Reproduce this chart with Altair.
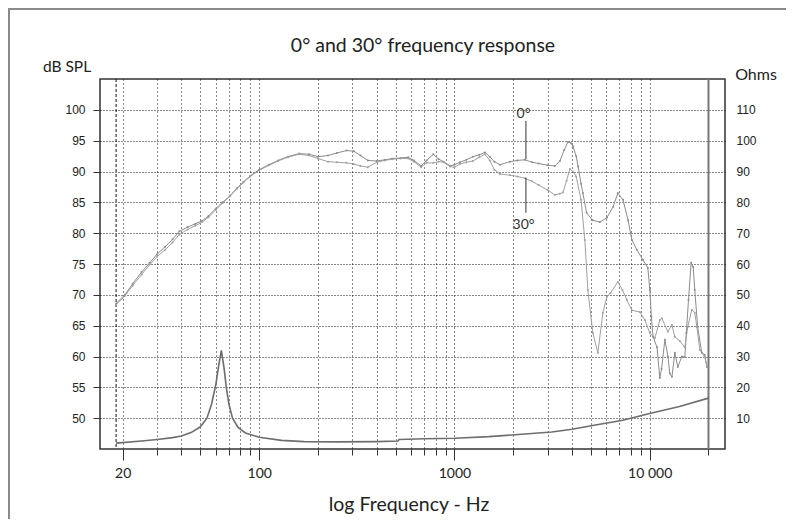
import altair as alt
import pandas as pd

# ---------------- data ----------------
freq_0 = [18.5, 20.5, 22.5, 25, 27.5, 30, 33, 36, 39, 43, 47, 51, 55, 60, 65, 71, 77, 83, 90, 100,
          112, 125, 140, 160, 180, 200, 225, 250, 280, 305, 330, 360, 400, 440, 480, 530, 580, 620,
          676, 720, 780, 830, 880, 950, 1000, 1066, 1150, 1243, 1340, 1432, 1516, 1600, 1709, 1924,
          2100, 2295, 2500, 2700, 3000, 3268, 3467, 3650, 3810, 3950, 4043, 4200, 4300, 4450, 4547,
          4750, 5100, 5556, 6036, 6500, 6866, 7300, 7750, 8100, 8600, 9220, 9780, 10016, 10200,
          10400, 10900, 11264, 11500, 11958, 12400, 12667, 12993, 13449, 13926, 14612, 15126, 15400,
          15800, 16300, 16700, 17013, 17600, 18482, 19125, 19615]
spl_0 = [68.6, 70.0, 71.8, 73.7, 75.2, 76.6, 77.8, 79.0, 80.3, 81.0, 81.5, 82.0, 82.8, 84.0, 85.0,
         86.1, 87.3, 88.3, 89.3, 90.3, 91.1, 91.8, 92.4, 92.9, 92.8, 92.4, 92.6, 93.0, 93.4, 93.3,
         92.6, 91.8, 91.7, 91.9, 92.1, 92.2, 92.3, 91.8, 90.9, 91.8, 92.8, 92.0, 91.6, 90.9, 91.1,
         91.5, 91.9, 92.4, 92.7, 93.1, 92.4, 91.6, 91.1, 91.6, 91.8, 91.9, 91.5, 91.3, 91.0, 90.9,
         91.7, 93.5, 94.8, 94.6, 94.1, 92.5, 90.8, 88.0, 86.5, 83.3, 82.1, 81.8, 82.5, 84.3, 86.5,
         85.4, 82.1, 78.9, 77.3, 75.7, 74.4, 70.8, 66.4, 63.2, 61.5, 56.5, 58.0, 62.7, 60.0, 57.3,
         56.7, 60.6, 58.3, 60.0, 59.9, 63.8, 69.2, 75.2, 74.5, 70.8, 64.8, 60.6, 60.3, 58.3]

freq_30 = [18.5, 20.5, 22.5, 25, 27.5, 30, 33, 36, 39, 43, 47, 51, 55, 60, 65, 71, 77, 83, 90, 100,
           112, 125, 140, 160, 180, 200, 225, 250, 280, 305, 330, 360, 400, 440, 480, 530, 580, 620,
           676, 720, 780, 830, 880, 950, 1000, 1066, 1150, 1243, 1340, 1432, 1516, 1600, 1709, 1924,
           2100, 2295, 2500, 2700, 3000, 3268, 3467, 3594, 3750, 3903, 4043, 4200, 4450, 4653, 4822,
           5114, 5425, 5757, 6036, 6300, 6866, 7250, 7633, 8103, 8906, 9449, 10016, 10634, 11264,
           11545, 12379, 12993, 13449, 14280, 15126, 15656, 16430, 17013, 17442, 18054, 19125, 19615]
spl_30 = [68.4, 69.8, 71.5, 73.3, 74.9, 76.2, 77.3, 78.5, 79.8, 80.6, 81.2, 81.8, 82.6, 83.8, 84.9,
          86.0, 87.2, 88.2, 89.2, 90.2, 91.0, 91.7, 92.3, 92.8, 92.6, 92.1, 91.6, 91.5, 91.4, 91.2,
          90.9, 90.7, 91.5, 91.8, 92.0, 92.1, 92.1, 91.6, 90.7, 91.4, 91.4, 91.6, 91.5, 90.8, 90.7,
          91.2, 91.5, 91.7, 92.3, 92.8, 91.8, 90.3, 89.6, 89.4, 89.2, 88.9, 88.4, 87.8, 87.0, 86.2,
          86.4, 86.6, 88.5, 90.4, 90.0, 89.2, 85.4, 78.9, 70.8, 63.8, 60.6, 67.1, 69.7, 70.3, 72.1,
          70.8, 69.2, 67.5, 67.2, 65.9, 63.8, 63.0, 65.9, 66.2, 64.0, 65.1, 63.2, 62.5, 61.5, 64.8,
          67.6, 67.1, 64.8, 61.1, 59.9, 58.5]

imp_freq = [18.5, 25, 30, 36, 40, 45, 50, 54, 57, 60, 62, 64, 66, 68, 70, 73, 78, 85, 100, 130,
            170, 250, 400, 515, 520, 700, 1000, 1500, 2040, 3150, 4000, 5100, 7280, 10000, 14200, 20000]
imp_ohms = [1.9, 2.6, 3.1, 3.7, 4.2, 5.4, 7.2, 10.0, 14.5, 21.0, 27.0, 32.0, 26.5, 19.5, 14.5, 10.0,
            7.0, 5.2, 3.8, 2.8, 2.4, 2.3, 2.4, 2.6, 3.1, 3.3, 3.5, 4.0, 4.6, 5.5, 6.4, 7.6, 9.3, 11.5,
            13.8, 16.5]

x_ticks = [20, 30, 40, 50, 60, 70, 80, 90, 100, 200, 300, 400, 500, 600, 700, 800, 900,
           1000, 2000, 3000, 4000, 5000, 6000, 7000, 8000, 9000, 10000, 20000]
y_ticks_db = [50, 55, 60, 65, 70, 75, 80, 85, 90, 95, 100]
y_ticks_ohm = [10, 20, 30, 40, 50, 60, 70, 80, 90, 100, 110]
marker_freqs = [18.5, 20000]

title_text = "0° and 30° frequency response"
left_title = "dB SPL"
right_title = "Ohms"
x_title = "log Frequency - Hz"
curve_labels = ["0°", "30°"]
label_freq = [2260, 2260]
label_db = [99.3, 81.4]
leader_freq = [2323, 2323]
leader_top = [98.2, 89.0]
leader_bottom = [92.0, 83.3]

# ---------------- frames ----------------
curves = pd.concat([
    pd.DataFrame({"f": freq_0, "db": spl_0, "angle": "0°"}),
    pd.DataFrame({"f": freq_30, "db": spl_30, "angle": "30°"}),
])
imp = pd.DataFrame({"f": imp_freq, "ohm": imp_ohms})
labels = pd.DataFrame({"f": label_freq, "db": label_db, "t": curve_labels})
leaders = pd.DataFrame({"f": leader_freq, "y1": leader_top, "y2": leader_bottom})

X_SCALE = alt.Scale(type="log", domain=[15.3, 24300], nice=False, zero=False)
Y_SCALE = alt.Scale(domain=[45, 105], nice=False, zero=False)

major_test = "datum.value == 20 || datum.value == 100 || datum.value == 1000 || datum.value == 10000"
x_axis = alt.Axis(
    values=x_ticks,
    labelExpr="datum.value == 20 ? '20' : datum.value == 100 ? '100' : datum.value == 1000 ? '1000' : datum.value == 10000 ? '10 000' : ''",
    grid=True, gridDash=[1, 3], gridColor="#111", gridWidth=1,
    gridOpacity={"condition": {"test": "datum.value > 15000", "value": 0}, "value": 1},
    tickSize={"condition": {"test": major_test, "value": 11}, "value": 6},
    tickColor="#333", domain=False, labelFont="Lato", labelFontSize=14,
    labelColor="#222", labelPadding=6, title=None, labelFlush=False, labelOverlap=False,
)
y_axis = alt.Axis(
    values=y_ticks_db, grid=True, gridDash=[1, 2], gridColor="#111", gridOpacity=1,
    tickSize=7, tickColor="#333", domain=False, labelFont="Liberation Sans",
    labelFontSize=12, labelColor="#222", labelPadding=8, title=None,
)


def xenc(field="f"):
    return alt.X(f"{field}:Q", scale=X_SCALE, axis=x_axis)


def yenc(field="db"):
    return alt.Y(f"{field}:Q", scale=Y_SCALE, axis=y_axis)


lines = alt.Chart(curves).mark_line(
    strokeWidth=1, point=alt.OverlayMarkDef(filled=True, size=4, color="#444")
).encode(
    x=xenc(), y=yenc(),
    color=alt.Color("angle:N", scale=alt.Scale(domain=curve_labels, range=["#8c8c8c", "#a0a0a0"]), legend=None),
)

leader_rules = alt.Chart(leaders).mark_rule(color="#333", strokeWidth=1).encode(
    x=xenc(), y=yenc("y1"), y2=alt.Y2("y2:Q")
)
label_text = alt.Chart(labels).mark_text(font="Lato", fontSize=14, color="#333").encode(
    x=xenc(), y=yenc(), text="t:N"
)

spl_group = alt.layer(lines, leader_rules, label_text)

imp_line = alt.Chart(imp).mark_line(color="#6e6e6e", strokeWidth=1.6).encode(
    x=xenc(),
    y=alt.Y("ohm:Q", scale=alt.Scale(domain=[0, 120], nice=False, zero=False),
            axis=alt.Axis(orient="right", values=y_ticks_ohm, ticks=False, domain=False, grid=False,
                          labelPadding=11, labelFont="Liberation Sans", labelFontSize=12,
                          labelColor="#222", title=None)),
)

start_rule = alt.Chart(pd.DataFrame({"f": [marker_freqs[0]]})).mark_rule(
    color="#111", strokeWidth=1, strokeDash=[3, 2]).encode(x=xenc())
end_rule = alt.Chart(pd.DataFrame({"f": [marker_freqs[1]]})).mark_rule(
    color="#777", strokeWidth=2).encode(x=xenc())

outer_box = alt.Chart(pd.DataFrame({"k": [0]})).mark_rect(
    fillOpacity=0, stroke="#8a8a8a", strokeWidth=2).encode(
    x=alt.value(-91), y=alt.value(-70), x2=alt.value(800), y2=alt.value(600))


def text_at(txt, px, py, size, align="center"):
    return alt.Chart(pd.DataFrame({"t": [txt]})).mark_text(
        font="Lato", fontSize=size, color="#222", align=align, baseline="middle"
    ).encode(x=alt.value(px), y=alt.value(py), text="t:N")


chart = alt.layer(
    outer_box,
    start_rule,
    end_rule,
    imp_line,
    spl_group,
    text_at(title_text, 323, -33, 19.5),
    text_at(left_title, -33, -12, 15.5),
    text_at(right_title, 656, -4, 16),
    text_at(x_title, 309, 426, 19.5),
).resolve_scale(y="independent").properties(
    width=625, height=370,
    padding={"left": 92, "top": 71, "right": 61, "bottom": 70},
    autosize=alt.AutoSizeParams(type="none"),
    background="white",
).configure_view(stroke="#333", strokeWidth=1.5)

chart.save("out.html", embed_options={"renderer": "svg", "actions": False})
